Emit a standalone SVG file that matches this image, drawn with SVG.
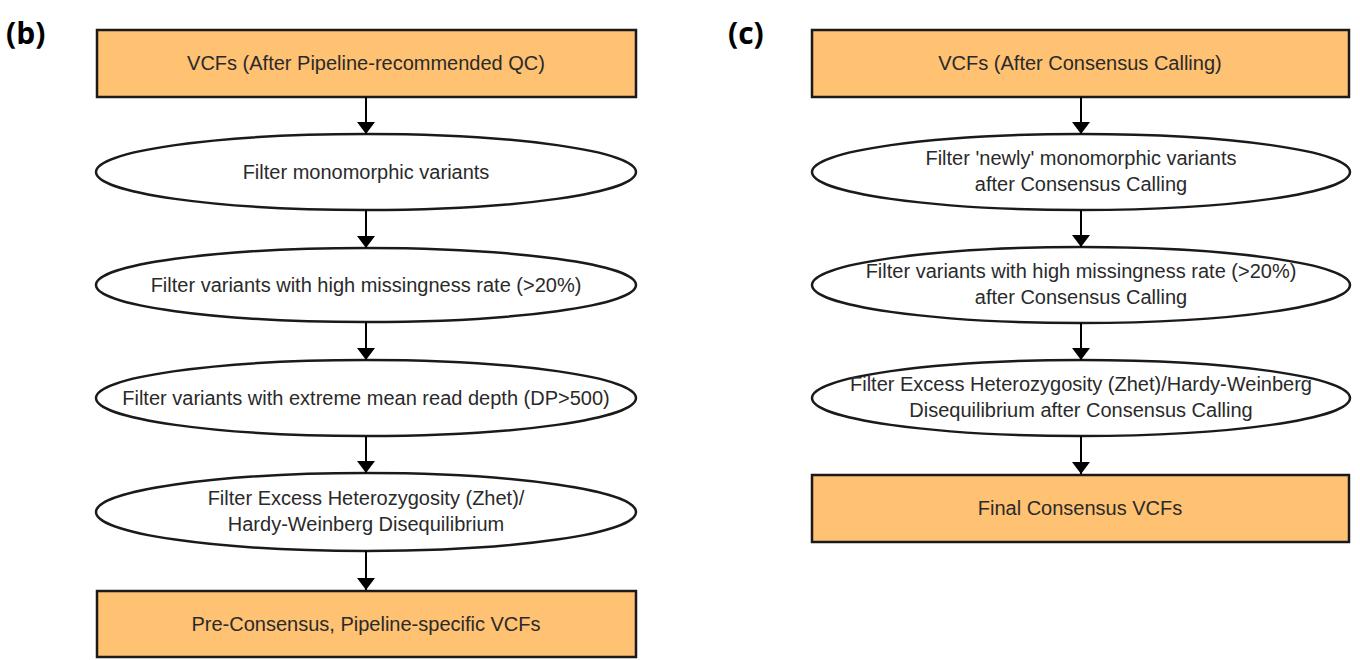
<svg xmlns="http://www.w3.org/2000/svg" width="1360" height="660" viewBox="0 0 1360 660">
<defs>
<marker id="ah" viewBox="0 0 12 18" refX="12" refY="9" markerWidth="12" markerHeight="18" markerUnits="userSpaceOnUse" orient="auto">
<path d="M0,0 L12,9 L0,18 Z" fill="#000"/>
</marker>
<style>
.box{fill:#FFC172;stroke:#1a1a1a;stroke-width:2.5}
.ell{fill:#fff;stroke:#1a1a1a;stroke-width:2.5}
.t{font-family:"Liberation Sans",Arial,sans-serif;font-size:20px;fill:#2a2a2a;text-anchor:middle}
.lab{font-family:"Open Sans","Liberation Sans",sans-serif;font-size:30px;font-weight:bold;fill:#000}
.conn line{stroke:#000;stroke-width:2;marker-end:url(#ah)}
</style>
</defs>
<rect width="1360" height="660" fill="#fff"/>
<text class="lab" x="6" y="44">(b)</text>
<text class="lab" x="728" y="44">(c)</text>

<g id="b1"><rect class="box" x="97" y="30" width="539" height="67"/><text class="t" x="366" y="70">VCFs (After Pipeline-recommended QC)</text></g>
<g id="b2"><ellipse class="ell" cx="366" cy="172" rx="270" ry="38"/><text class="t" x="366" y="179">Filter monomorphic variants</text></g>
<g id="b3"><ellipse class="ell" cx="366" cy="285" rx="270" ry="37"/><text class="t" x="366" y="292">Filter variants with high missingness rate (&gt;20%)</text></g>
<g id="b4"><ellipse class="ell" cx="366" cy="398" rx="270" ry="38"/><text class="t" x="366" y="405">Filter variants with extreme mean read depth (DP&gt;500)</text></g>
<g id="b5"><ellipse class="ell" cx="366" cy="512" rx="270" ry="39"/><text class="t" x="366" y="505">Filter Excess Heterozygosity (Zhet)/</text><text class="t" x="366" y="531">Hardy-Weinberg Disequilibrium</text></g>
<g id="b6"><rect class="box" x="97" y="591" width="539" height="66"/><text class="t" x="366" y="631">Pre-Consensus, Pipeline-specific VCFs</text></g>

<g id="c1"><rect class="box" x="812" y="30" width="537" height="67"/><text class="t" x="1080" y="70">VCFs (After Consensus Calling)</text></g>
<g id="c2"><ellipse class="ell" cx="1081" cy="172" rx="269" ry="38"/><text class="t" x="1081" y="165">Filter 'newly' monomorphic variants</text><text class="t" x="1081" y="191">after Consensus Calling</text></g>
<g id="c3"><ellipse class="ell" cx="1081" cy="285" rx="269" ry="38"/><text class="t" x="1081" y="278">Filter variants with high missingness rate (&gt;20%)</text><text class="t" x="1081" y="304">after Consensus Calling</text></g>
<g id="c4"><ellipse class="ell" cx="1081" cy="398" rx="269" ry="38"/><text class="t" x="1081" y="391">Filter Excess Heterozygosity (Zhet)/Hardy-Weinberg</text><text class="t" x="1081" y="417">Disequilibrium after Consensus Calling</text></g>
<g id="c5"><rect class="box" x="812" y="475" width="537" height="67"/><text class="t" x="1080" y="515">Final Consensus VCFs</text></g>

<g id="connectors" class="conn">
<line x1="366" y1="97" x2="366" y2="134"/>
<line x1="366" y1="210" x2="366" y2="248"/>
<line x1="366" y1="322" x2="366" y2="360"/>
<line x1="366" y1="436" x2="366" y2="473"/>
<line x1="366" y1="551" x2="366" y2="590"/>
<line x1="1081" y1="97" x2="1081" y2="134"/>
<line x1="1081" y1="210" x2="1081" y2="247"/>
<line x1="1081" y1="323" x2="1081" y2="360"/>
<line x1="1081" y1="436" x2="1081" y2="474"/>
</g>
</svg>
